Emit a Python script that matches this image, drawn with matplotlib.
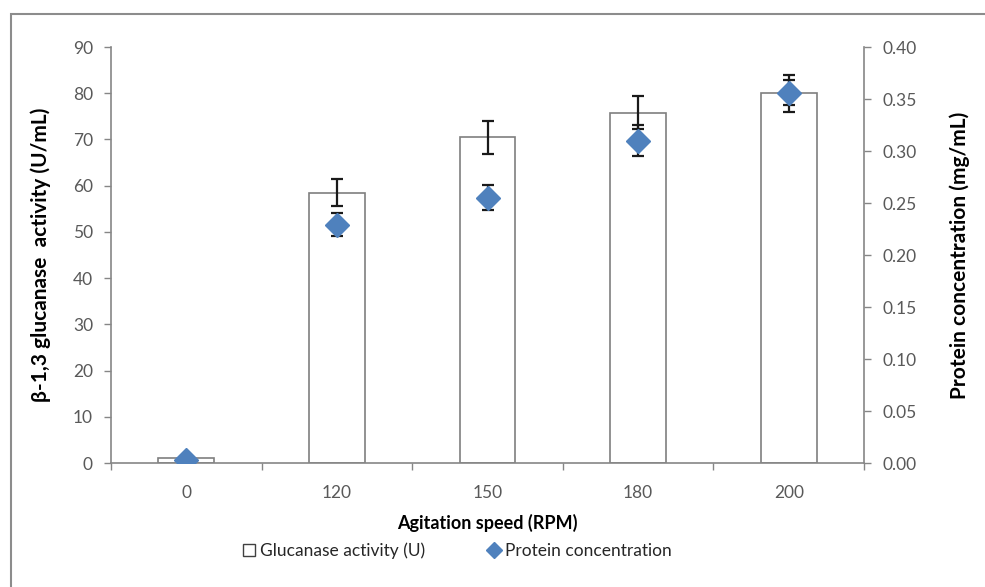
import matplotlib
matplotlib.use("Agg")
import matplotlib.pyplot as plt
import numpy as np
from matplotlib.patches import Rectangle
from matplotlib.lines import Line2D

plt.rcParams["font.family"] = ["Lato", "DejaVu Sans"]

speeds = ["0", "120", "150", "180", "200"]
activity = [1.0, 58.5, 70.5, 75.8, 80.0]
activity_err = [0.0, 2.9, 3.6, 3.6, 4.0]
protein = [0.003, 0.229, 0.255, 0.310, 0.356]
protein_err = [0.0, 0.011, 0.012, 0.015, 0.012]

tick_grey = "#595959"
axis_grey = "#868686"
blue = "#4F81BD"

fig = plt.figure(figsize=(9.85, 5.87), dpi=100)
fig.patches.append(Rectangle((11 / 985, -0.1), 1.2, 1 - 14 / 587 + 0.1,
                             transform=fig.transFigure, fill=False,
                             edgecolor="#8c8c8c", linewidth=1.5))

ax = fig.add_axes([0.1127, 0.2112, 0.7645, 0.7087])
x = np.arange(len(speeds))
ax.bar(x, activity, width=0.37, color="white", edgecolor="#7f7f7f",
       linewidth=1.2, zorder=2)
ax.errorbar(x[1:], activity[1:], yerr=activity_err[1:], fmt="none",
            ecolor="#1a1a1a", elinewidth=1.6, capsize=4, capthick=1.6, zorder=3)

ax.set_xlim(-0.5, len(speeds) - 0.5)
ax.set_ylim(0, 90)
ax.set_yticks(range(0, 91, 10))
ax.set_xticks(x)
ax.set_xticklabels(speeds)
ax.set_xticks(np.arange(-0.5, len(speeds), 1.0), minor=True)
ax.tick_params(axis="x", which="major", length=0, pad=16)
ax.tick_params(axis="x", which="minor", length=5, color=axis_grey, width=1)
ax.tick_params(axis="y", length=5, color=axis_grey, width=1, pad=8)
ax.tick_params(labelsize=12.5, labelcolor=tick_grey)
for s in ["top", "right"]:
    ax.spines[s].set_visible(False)
for s in ["left", "bottom"]:
    ax.spines[s].set_color(axis_grey)
    ax.spines[s].set_linewidth(1.2)
ax.set_ylabel("β-1,3 glucanase  activity (U/mL)", fontsize=15,
              fontweight="bold", labelpad=16)
ax.set_xlabel("Agitation speed (RPM)", fontsize=13, fontweight="bold",
              labelpad=9)

ax2 = ax.twinx()
ax2.errorbar(x[1:], protein[1:], yerr=protein_err[1:], fmt="none",
             ecolor="#1a1a1a", elinewidth=1.6, capsize=4, capthick=1.6, zorder=3)
ax2.plot(x, protein, linestyle="none", marker="D", markersize=12,
         color=blue, zorder=4)
ax2.set_ylim(0, 0.40)
ax2.set_yticks(np.arange(0, 0.401, 0.05))
ax2.set_yticklabels([f"{v:.2f}" for v in np.arange(0, 0.401, 0.05)])
ax2.tick_params(axis="y", length=5, color=axis_grey, width=1, pad=8,
                labelsize=12.5, labelcolor=tick_grey)
for s in ["top", "left", "bottom"]:
    ax2.spines[s].set_visible(False)
ax2.spines["right"].set_color(axis_grey)
ax2.spines["right"].set_linewidth(1.2)
ax2.set_ylabel("Protein concentration (mg/mL)", fontsize=15,
               fontweight="bold", labelpad=24)

handles = [
    Line2D([], [], linestyle="none", marker="s", markersize=9,
           markerfacecolor="white", markeredgecolor="#404040",
           markeredgewidth=1),
    Line2D([], [], linestyle="none", marker="D", markersize=8, color=blue),
]
fig.legend(handles, ["Glucanase activity (U)", "Protein concentration"],
           loc="center", bbox_to_anchor=(0.463, 0.062), ncol=2, frameon=False,
           fontsize=12.5, handletextpad=0.1, columnspacing=3.5,
           handlelength=1.0, labelcolor="#262626")

fig.savefig("out.png", dpi=100)
